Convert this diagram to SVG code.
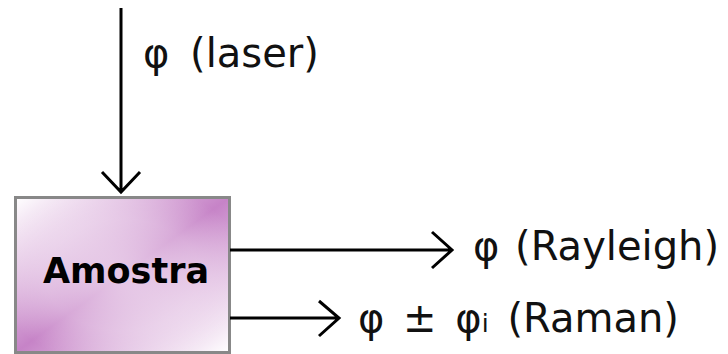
<svg xmlns="http://www.w3.org/2000/svg" width="728" height="354" viewBox="0 0 728 354">
<style>
.t{font-family:"DejaVu Sans","Verdana",sans-serif;font-size:40px;fill:#111}
.b{font-family:"DejaVu Sans","Verdana",sans-serif;font-size:35px;font-weight:bold;fill:#000}
.c{stroke:#000;stroke-width:3;fill:none}
</style>
<defs>
<linearGradient id="g" x1="0" y1="0" x2="1" y2="1">
<stop offset="0" stop-color="#ffffff"/>
<stop offset="0.5" stop-color="#c683c7"/>
<stop offset="1" stop-color="#ffffff"/>
</linearGradient>
<radialGradient id="w" cx="0.5" cy="0.5" r="0.6">
<stop offset="0" stop-color="#fff" stop-opacity="0.55"/>
<stop offset="0.6" stop-color="#fff" stop-opacity="0.3"/>
<stop offset="1" stop-color="#fff" stop-opacity="0"/>
</radialGradient>
</defs>
<g id="amostra">
<rect x="15.5" y="197.5" width="214" height="155" fill="url(#g)"/>
<rect x="15.5" y="197.5" width="214" height="155" fill="url(#w)" stroke="#888" stroke-width="3"/>
<text class="b" x="43" y="283">Amostra</text>
</g>
<g id="connectors">
<path class="c" d="M121 8V192M102 172L121 192L140 172"/>
<path class="c" d="M230 250H452M432 232L452 250L432 268"/>
<path class="c" d="M230 318H339M319 301L339 318L319 336"/>
</g>
<g id="labels">
<text class="t" x="143" y="67" word-spacing="8">φ (laser)</text>
<text class="t" x="473" y="260" word-spacing="3">φ (Rayleigh)</text>
<text class="t" x="358" y="332" word-spacing="6">φ ± φ<tspan font-size="25">i</tspan> (Raman)</text>
</g>
</svg>
